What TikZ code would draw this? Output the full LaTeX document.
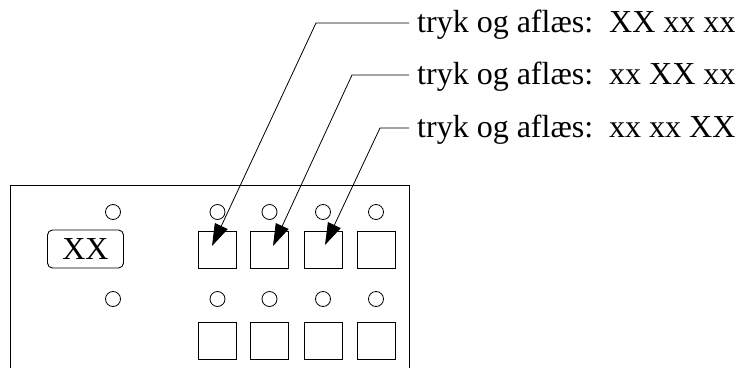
\documentclass[tikz,border=0pt]{standalone}
\usepackage{fontspec}
\setmainfont{Liberation Serif}
\usetikzlibrary{arrows.meta}
\begin{document}
\begin{tikzpicture}[x=1pt,y=-1pt,
  frame/.style={line width=0.9pt},
  btn/.style={draw, line width=0.9pt, minimum width=38pt, minimum height=37pt, inner sep=0pt},
  lamp/.style={draw, circle, line width=0.8pt, minimum size=15pt, inner sep=0pt},
  lbl/.style={anchor=base west, inner sep=0pt, font=\fontsize{32}{36}\selectfont},
  lead/.style={line width=0.8pt, -{Triangle[length=22pt,width=14pt]}}
]
\useasboundingbox (0,0) rectangle (742,367);
% panel
\draw[frame] (10,370) -- (10,185) -- (409,185) -- (409,370);
% display
\node[draw, line width=0.9pt, rounded corners=5pt, minimum width=76pt, minimum height=38pt, inner sep=0pt, font=\fontsize{32}{36}\selectfont] (disp) at (85.5,249) {XX};
% lamps
\node[lamp] (l0) at (113,212) {};
\node[lamp] (m0) at (113,299) {};
\foreach \i/\x in {1/217.5,2/269.5,3/323,4/376}{
  \node[lamp] (l\i) at (\x,212) {};
  \node[lamp] (m\i) at (\x,299) {};
  \node[btn] (b\i) at (\x,249.5) {};
  \node[btn] (c\i) at (\x,341) {};
}
% labels
\node[lbl] (t1) at (417,32) {tryk og aflæs:\ \ XX xx xx};
\node[lbl] (t2) at (417,84.5) {tryk og aflæs:\ \ xx XX xx};
\node[lbl] (t3) at (417,137) {tryk og aflæs:\ \ xx xx XX};
% leader points
\coordinate (e1) at (316,23);  \coordinate (p1) at (212,246);
\coordinate (e2) at (352,75);  \coordinate (p2) at (273,246);
\coordinate (e3) at (380,128); \coordinate (p3) at (325,245);
\draw[lead] ([xshift=-8pt]t1.west |- e1) -- (e1) -- (p1);
\draw[lead] ([xshift=-8pt]t2.west |- e2) -- (e2) -- (p2);
\draw[lead] ([xshift=-8pt]t3.west |- e3) -- (e3) -- (p3);
\end{tikzpicture}
\end{document}
